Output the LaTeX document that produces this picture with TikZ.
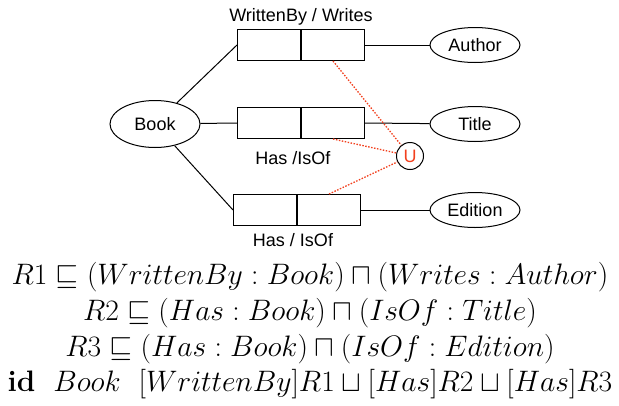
\RequirePackage{fix-cm}
\documentclass[tikz,border=0pt]{standalone}
\usepackage{fontspec}
\usepackage{tikz}
\usetikzlibrary{shapes.geometric,positioning}
\newfontfamily\diagfont{Liberation Sans}
\definecolor{Union}{HTML}{F2401E}

\begin{document}
\begin{tikzpicture}[x=1pt, y=-1pt, line width=1pt,
  every node/.style={font=\diagfont\fontsize{18}{20}\selectfont},
  concept/.style={ellipse, draw, minimum width=90pt, minimum height=35pt, inner sep=0pt},
  half/.style={rectangle, draw, minimum width=63pt, minimum height=31pt, inner sep=0pt},
  link/.style={draw=Union, dash pattern=on 1.5pt off 1.5pt, line width=1.3pt}]
  \useasboundingbox (0,0) rectangle (619,405);

  % concepts
  \node[concept, minimum height=47pt] (book) at (155,124) {Book};
  \node[concept] (author)  at (475,45)  {Author};
  \node[concept] (title)   at (475,124) {Title};
  \node[concept] (edition) at (475,210) {Edition};

  % relationship boxes
  \node[half, anchor=east] (wb1) at (301,45) {};
  \node[half, anchor=west] (wb2) at (301,45) {};
  \node[half, anchor=east] (ht1) at (301,123) {};
  \node[half, anchor=west] (ht2) at (301,123) {};
  \node[half, anchor=east] (he1) at (297,210) {};
  \node[half, anchor=west] (he2) at (297,210) {};

  \node[above=0pt of wb1.north east] (wblab) {WrittenBy / Writes};
  \node[below=9pt of ht1.south east, xshift=-8pt] (htlab) {Has /IsOf};
  \node[below=4pt of he1.south east, xshift=-4pt] (helab) {Has / IsOf};

  \draw (book) -- (wb1.west);
  \draw (book) -- (ht1.west);
  \draw (book) -- (he1.west);
  \draw (wb2.east) -- (author);
  \draw (ht2.east) -- (title);
  \draw (he2.east) -- (edition);

  % union of the three roles
  \node[circle, draw, minimum size=27pt, inner sep=0pt, text=Union] (union) at (410,156) {U};
  \draw[link] (wb2.south) -- (union);
  \draw[link] (ht2.south) -- (union);
  \draw[link] (he2.north) -- (union);

  \node[font=\fontsize{29.6}{35.7}\selectfont, align=center] (rules) at (310,331)
    {$R1 \sqsubseteq (WrittenBy : Book) \sqcap (Writes : Author)$\\
     $R2 \sqsubseteq (Has : Book) \sqcap (IsOf : Title)$\\
     $R3 \sqsubseteq (Has : Book) \sqcap (IsOf : Edition)$\\
     \textbf{id}\ \ $Book$\ \ $[WrittenBy]R1 \sqcup [Has]R2 \sqcup [Has]R3$};
\end{tikzpicture}
\end{document}
